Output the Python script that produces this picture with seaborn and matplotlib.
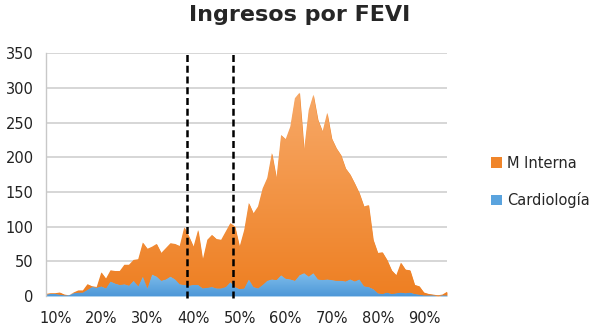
import matplotlib
matplotlib.use("Agg")
import matplotlib.pyplot as plt
import matplotlib.colors as mcolors
import seaborn as sns
import numpy as np
import pandas as pd

# FEVI (%) categories
fevi = list(range(8, 96))

cardiologia = [2, 3, 3, 2, 1, 1, 4, 5, 5, 9,
               13, 12, 14, 11, 21, 18, 16, 17, 15, 22,
               14, 28, 11, 31, 28, 22, 24, 28, 24, 17,
               16, 15, 16, 16, 11, 12, 13, 11, 11, 13,
               20, 13, 10, 11, 24, 13, 11, 16, 22, 24,
               23, 30, 25, 24, 22, 30, 33, 28, 33, 24,
               23, 24, 23, 22, 22, 21, 24, 21, 24, 14,
               13, 10, 4, 3, 5, 3, 4, 5, 4, 5,
               3, 2, 1, 1, 1, 0, 1, 1]

m_interna = [1, 1, 1, 3, 1, 0, 1, 3, 3, 8,
             1, 1, 20, 14, 16, 18, 20, 28, 30, 30,
             39, 49, 57, 40, 47, 40, 45, 48, 51, 55,
             83, 71, 55, 79, 41, 69, 75, 71, 70, 80,
             85, 87, 61, 84, 110, 106, 118, 139, 148, 182,
             147, 202, 201, 220, 263, 263, 178, 240, 257, 230,
             214, 240, 204, 191, 181, 163, 151, 141, 124, 115,
             118, 71, 58, 60, 47, 34, 26, 43, 34, 32,
             13, 12, 4, 2, 1, 1, 1, 5]

series_names = ["Cardiología", "M Interna"]
colors = {"Cardiología": "#5AA3DE", "M Interna": "#F0852A"}
gradients = {"Cardiología": ("#4F98D8", "#7DBDEB"),
             "M Interna": ("#EE7F22", "#F7A968")}

y_ticks = [0, 50, 100, 150, 200, 250, 300, 350]
x_ticks = [10, 20, 30, 40, 50, 60, 70, 80, 90]
x_tick_labels = ["10%", "20%", "30%", "40%", "50%", "60%", "70%", "80%", "90%"]
marker_lines = [38.5, 48.6]

df = pd.DataFrame({"FEVI": fevi, "Cardiología": cardiologia, "M Interna": m_interna})

sns.set_theme(style="white")
plt.rcParams["font.family"] = ["DejaVu Sans"]

fig = plt.figure(figsize=(6.0, 3.34), dpi=100)
ax = fig.add_axes([0.0767, 0.1138, 0.6683, 0.7272])

polys = ax.stackplot(df["FEVI"], df["Cardiología"], df["M Interna"],
                     colors=[colors["Cardiología"], colors["M Interna"]],
                     labels=series_names, linewidth=0, zorder=2)

# vertical gradient fill clipped to each area
xmin, xmax = 8, 95
tops = [max(cardiologia), max(np.add(cardiologia, m_interna))]
for poly, name, top in zip(polys, series_names, tops):
    c0, c1 = gradients[name]
    cmap = mcolors.LinearSegmentedColormap.from_list(name, [c0, c1])
    grad = np.linspace(0, 1, 256).reshape(-1, 1)
    im = ax.imshow(grad, cmap=cmap, origin="lower", aspect="auto",
                   extent=[xmin, xmax, 0, top], zorder=2.1)
    im.set_clip_path(poly.get_paths()[0], ax.transData)

for xv in marker_lines:
    ax.axvline(xv, ymin=-0.01, ymax=1.0, color="black", linestyle=(0, (2.8, 1.5)),
               linewidth=1.8, zorder=3, clip_on=False)

ax.set_xlim(xmin, xmax)
ax.set_ylim(0, 350)
ax.set_yticks(y_ticks)
ax.set_xticks(x_ticks)
ax.set_xticklabels(x_tick_labels)
ax.tick_params(axis="both", length=0, labelsize=10.5, colors="#222222")
ax.tick_params(axis="y", pad=9)
ax.tick_params(axis="x", pad=11)
ax.yaxis.grid(True, color="#D3D3D3", linewidth=1.3, zorder=0)
ax.set_axisbelow(True)
for side in ["top", "right", "bottom"]:
    ax.spines[side].set_visible(False)
ax.spines["left"].set_color("#C8C8C8")
ax.spines["left"].set_linewidth(1.0)
ax.set_xlabel("")
ax.set_ylabel("")

handles, labels = ax.get_legend_handles_labels()
leg = fig.legend(handles[::-1], labels[::-1], loc="center left",
                 bbox_to_anchor=(0.797, 0.455), frameon=False,
                 fontsize=10.5, handlelength=0.7, handleheight=0.7,
                 handletextpad=0.4, labelspacing=1.5)

fig.suptitle("Ingresos por FEVI", x=0.5, y=0.985, fontsize=16, fontweight="bold")

fig.savefig("out.png", dpi=100)
